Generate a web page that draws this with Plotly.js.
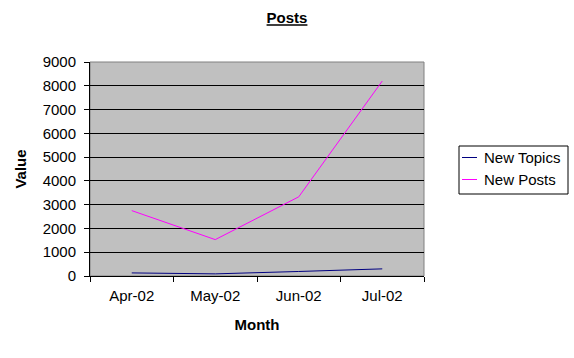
<!DOCTYPE html>
<html>
<head>
<meta charset="utf-8">
<script src="https://cdn.plot.ly/plotly-3.0.1.min.js"></script>
<style>html,body{margin:0;padding:0;background:#fff;}#chart{width:574px;height:358px;}</style>
</head>
<body>
<div id="chart"></div>
<script>
const months = ["Apr-02", "May-02", "Jun-02", "Jul-02"];
const newTopics = [130, 90, 190, 300];
const newPosts = [2750, 1530, 3330, 8200];
const yTicks = [0, 1000, 2000, 3000, 4000, 5000, 6000, 7000, 8000, 9000];
const seriesNames = ["New Topics", "New Posts"];
const seriesColors = ["#000080", "#FF00FF"];

const font = {family: "Arial, Liberation Sans, sans-serif", size: 15, color: "#000"};
const W = 574, H = 358;

const seriesData = [newTopics, newPosts];
const traces = seriesData.map((vals, i) => ({
  x: months, y: vals, name: seriesNames[i], type: "scatter", mode: "lines",
  line: {color: seriesColors[i], width: 1}, showlegend: false
}));

// custom Excel-style legend (short line swatches)
const legShapes = [
  {type: "rect", xref: "paper", yref: "paper", x0: 0, x1: 1, y0: 0, y1: 1,
   line: {color: "#808080", width: 1}, fillcolor: "rgba(0,0,0,0)", layer: "below"},
  {type: "rect", xref: "x domain", yref: "y domain", layer: "above",
   x0: 0, x1: 0, y0: 0, y1: 0, visible: false}
];
const boxL = 459, boxR = 568, boxT = 146, boxB = 194;
const px = x => x / W, py = y => 1 - y / H;
const legendShapes = [
  {type: "rect", xref: "paper", yref: "paper", x0: 0, x1: 1, y0: 0, y1: 1,
   line: {color: "#808080", width: 1}, fillcolor: "rgba(0,0,0,0)", layer: "below"}
];
const annotations = [];
// paper coords are relative to the plot area; convert container pixels
const mL = 90, mR = 150, mT = 62, mB = 82;
const plotW = W - mL - mR, plotH = H - mT - mB;
const cx = x => (x - mL) / plotW;
const cy = y => (H - mB - y) / plotH;
legendShapes.push({type: "rect", xref: "paper", yref: "paper",
  x0: cx(boxL), x1: cx(boxR), y0: cy(boxB), y1: cy(boxT),
  line: {color: "#000", width: 1}, fillcolor: "#fff"});
const rowY = [157.5, 179.5];
seriesNames.forEach((nm, i) => {
  legendShapes.push({type: "line", xref: "paper", yref: "paper",
    x0: cx(462), x1: cx(477), y0: cy(rowY[i]), y1: cy(rowY[i]),
    line: {color: seriesColors[i], width: 1}});
  annotations.push({xref: "paper", yref: "paper", x: cx(482), y: cy(rowY[i]),
    xanchor: "left", yanchor: "middle", text: nm, showarrow: false, font: font});
});

const layout = {
  width: W, height: H,
  margin: {l: mL, r: mR, t: mT, b: mB, autoexpand: false},
  paper_bgcolor: "#fff",
  plot_bgcolor: "#C0C0C0",
  font: font,
  title: {text: "<b><u>Posts</u></b>", x: 0.5, xref: "container", xanchor: "center",
          y: 1 - 18 / H, yref: "container", yanchor: "middle",
          font: {family: font.family, size: 15, color: "#000"}},
  xaxis: {
    type: "category", range: [-0.5, 3.5],
    showgrid: false, zeroline: false,
    showline: true, linecolor: "#000", linewidth: 1, mirror: false,
    ticks: "outside", ticklen: 5, tickcolor: "#000", tickson: "boundaries",
    ticklabelstandoff: 6,
    tickfont: font,
    title: {text: "<b>Month</b>", font: {family: font.family, size: 15, color: "#000"}, standoff: 16}
  },
  yaxis: {
    range: [0, 9000], tickvals: yTicks, ticktext: yTicks.map(String),
    showgrid: true, gridcolor: "#000", gridwidth: 1, zeroline: false,
    showline: true, linecolor: "#000", linewidth: 1,
    ticks: "outside", ticklen: 5, tickcolor: "#000",
    ticklabelstandoff: 5,
    tickfont: font,
    title: {text: "<b>Value</b>", font: {family: font.family, size: 15, color: "#000"}, standoff: 12}
  },
  shapes: legendShapes,
  annotations: annotations,
  showlegend: false
};

Plotly.newPlot("chart", traces, layout, {displayModeBar: false, staticPlot: true});
</script>
</body>
</html>
